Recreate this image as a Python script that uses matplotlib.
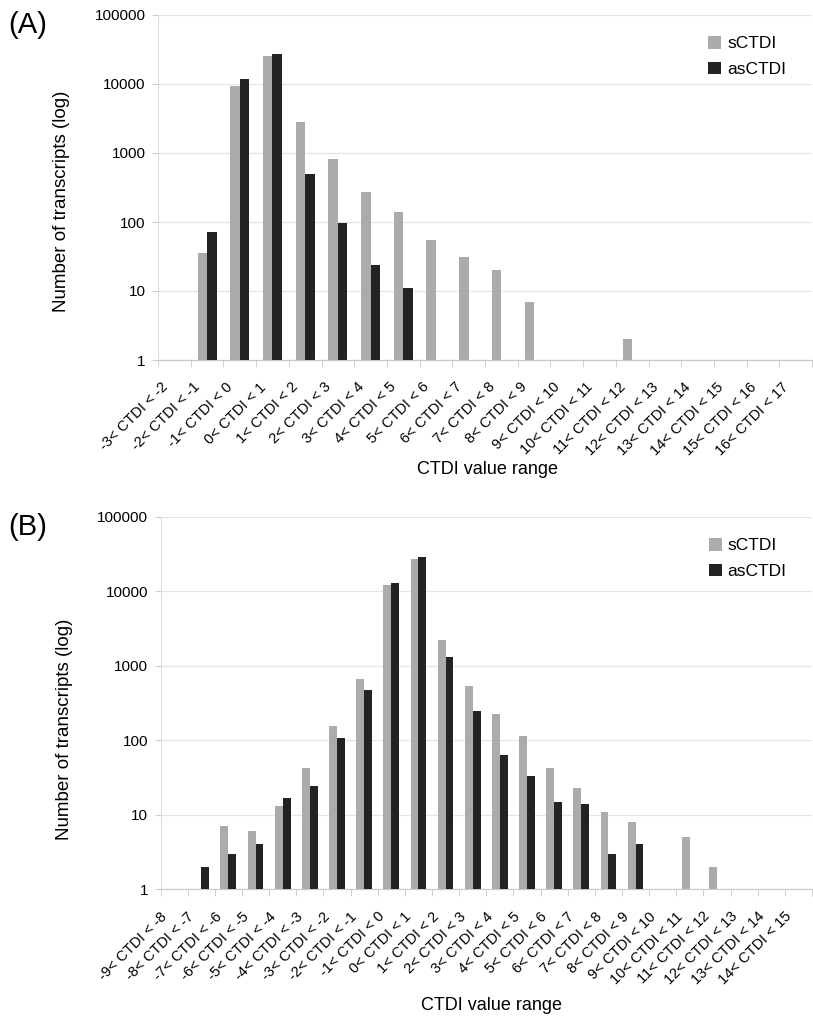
import numpy as np
import matplotlib
matplotlib.use("Agg")
import matplotlib.pyplot as plt
from matplotlib.transforms import ScaledTranslation

plt.rcParams["font.family"] = ["Liberation Sans", "DejaVu Sans"]

# Panel A: CTDI bins -3..17
a_lo = list(range(-3, 17))
a_s = [0, 35, 9300, 25500, 2800, 810, 275, 140, 54, 31, 20, 7, 0, 0, 2, 0, 0, 0, 0, 0]
a_as = [0, 72, 11900, 27000, 500, 98, 24, 11, 0, 0, 0, 0, 0, 0, 0, 0, 0, 0, 0, 0]

# Panel B: CTDI bins -9..15
b_lo = list(range(-9, 15))
b_s = [0, 0, 7, 6, 13, 43, 156, 660, 12000, 27400, 2200, 540, 228, 114, 43, 23, 11, 8, 0, 5, 2, 0, 0, 0]
b_as = [0, 2, 3, 4, 17, 24, 107, 470, 13000, 28600, 1290, 247, 63, 33, 15, 14, 3, 4, 0, 0, 0, 0, 0, 0]

GRAY = "#ababab"
BLACK = "#232323"
W = 0.29

W_PX, H_PX = 813, 1018
fig = plt.figure(figsize=(W_PX / 100, H_PX / 100), dpi=100)


def panel(rect, lo, s_vals, as_vals, tag, tag_y, xlab_xy, ylab_y):
    ax = fig.add_axes(rect)
    n = len(lo)
    x = np.arange(n)
    s = np.array(s_vals, dtype=float)
    a = np.array(as_vals, dtype=float)
    ms, ma = s > 0, a > 0
    ax.bar(x[ms] - W / 2, s[ms] - 1, width=W, bottom=1, color=GRAY, label="sCTDI", zorder=3)
    ax.bar(x[ma] + W / 2, a[ma] - 1, width=W, bottom=1, color=BLACK, label="asCTDI", zorder=3)
    ax.set_yscale("log")
    ax.set_ylim(1, 100000)
    ax.set_xlim(-0.5, n - 0.5)
    ax.set_yticks([1, 10, 100, 1000, 10000, 100000])
    ax.set_yticklabels(["1", "10", "100", "1000", "10000", "100000"], fontsize=11)
    ax.yaxis.set_minor_locator(matplotlib.ticker.NullLocator())
    ax.grid(axis="y", color="#e4e4e4", linewidth=0.9, zorder=0)
    ax.tick_params(axis="y", length=4, color="#cccccc", pad=5)

    ax.set_xticks(x)
    ax.set_xticklabels([f"{v}< CTDI < {v + 1}" for v in lo], rotation=45,
                       ha="right", va="center", rotation_mode="anchor", fontsize=10.5)
    ax.set_xticks(np.arange(n + 1) - 0.5, minor=True)
    ax.tick_params(axis="x", which="major", length=0, pad=18)
    ax.tick_params(axis="x", which="minor", length=5, color="#c8c8c8")
    shift = ScaledTranslation(-9 / 100, 0, fig.dpi_scale_trans)
    for lbl in ax.get_xticklabels():
        lbl.set_transform(lbl.get_transform() + shift)

    for side in ("top", "right"):
        ax.spines[side].set_visible(False)
    ax.spines["left"].set_color("#dddddd")
    ax.spines["bottom"].set_color("#c8c8c8")

    ax.set_ylabel("Number of transcripts (log)", fontsize=13.5)
    ax.yaxis.set_label_coords(-0.135, ylab_y)

    ax.legend(loc="upper right", bbox_to_anchor=(0.985, 0.985), frameon=False,
              fontsize=12.5, handlelength=0.75, handleheight=0.75,
              handletextpad=0.35, labelspacing=0.6)
    fig.text(8 / W_PX, 1 - tag_y / H_PX, tag, fontsize=21, ha="left", va="center")
    fig.text(xlab_xy[0] / W_PX, 1 - xlab_xy[1] / H_PX, "CTDI value range",
             fontsize=13, ha="center", va="center")
    return ax


panel([158 / W_PX, 1 - 360 / H_PX, (812 - 158) / W_PX, 345 / H_PX],
      a_lo, a_s, a_as, "(A)", 25, (487, 470), 0.46)
panel([160.5 / W_PX, 1 - 889.3 / H_PX, (812 - 160.5) / W_PX, 372.6 / H_PX],
      b_lo, b_s, b_as, "(B)", 527, (491, 1005), 0.43)

fig.savefig("out.png", dpi=100)
